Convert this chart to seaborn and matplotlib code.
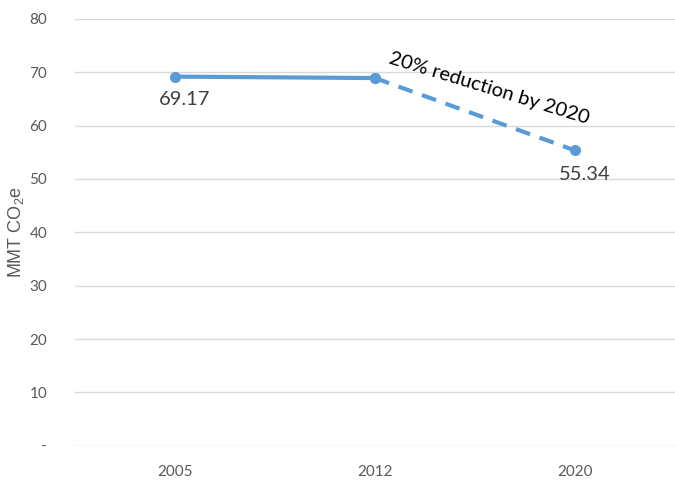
import matplotlib
matplotlib.use('Agg')
import matplotlib.pyplot as plt
import seaborn as sns
import pandas as pd

# data
years = ['2005', '2012', '2020']
actual_years = ['2005', '2012']
actual_vals = [69.17, 68.9]
target_years = ['2012', '2020']
target_vals = [68.9, 55.34]
y_ticks = [0, 10, 20, 30, 40, 50, 60, 70, 80]
y_ticklabels = ['-', '10', '20', '30', '40', '50', '60', '70', '80']

blue = '#5B9BD5'
grey = '#595959'

sns.set_style('white')
plt.rcParams['font.family'] = ['Lato', 'DejaVu Sans']
plt.rcParams['mathtext.default'] = 'regular'

pos = {y: i for i, y in enumerate(years)}
df_act = pd.DataFrame({'x': [pos[y] for y in actual_years], 'val': actual_vals})
df_tgt = pd.DataFrame({'x': [pos[y] for y in target_years], 'val': target_vals})

fig = plt.figure(figsize=(6.75, 4.82), dpi=100)
ax = fig.add_axes([0.111, 0.075, 0.889, 0.886])

sns.lineplot(data=df_act, x='x', y='val', ax=ax, color=blue, lw=3,
             marker='o', markersize=8, markeredgewidth=0)
sns.lineplot(data=df_tgt, x='x', y='val', ax=ax, color=blue, lw=3,
             linestyle=(0, (3.6, 2.4)), marker='o', markersize=8, markeredgewidth=0)

# data labels
ax.text(df_act['x'][0] + 0.05, df_act['val'][0] - 2.7, f'{actual_vals[0]:.2f}',
        ha='center', va='top', fontsize=14.5, color='#404040')
ax.text(df_tgt['x'][1] + 0.05, df_tgt['val'][1] - 3.0, f'{target_vals[1]:.2f}',
        ha='center', va='top', fontsize=14.5, color='#404040')
ax.text(1.57, 67.0, '20% reduction by 2020', rotation=-17, ha='center', va='center',
        fontsize=14.5, color='black')

ax.set_xlim(-0.5, 2.5)
ax.set_ylim(0, 80)
ax.set_xticks(range(len(years)))
ax.set_xticklabels(years)
ax.set_yticks(y_ticks)
ax.set_yticklabels(y_ticklabels)
ax.tick_params(axis='both', length=0, labelsize=11, colors=grey)
ax.tick_params(axis='x', pad=14)
ax.tick_params(axis='y', pad=20)
ax.grid(axis='y', color='#d9d9d9', lw=1)
ax.set_axisbelow(True)
for s in ax.spines.values():
    s.set_visible(False)
ax.set_xlabel('')
ax.set_ylabel('MMT CO$_2$e', fontsize=13, color=grey, family='Liberation Sans')
ax.yaxis.set_label_coords(-0.081, 0.5)

plt.savefig('out.png', dpi=100)
